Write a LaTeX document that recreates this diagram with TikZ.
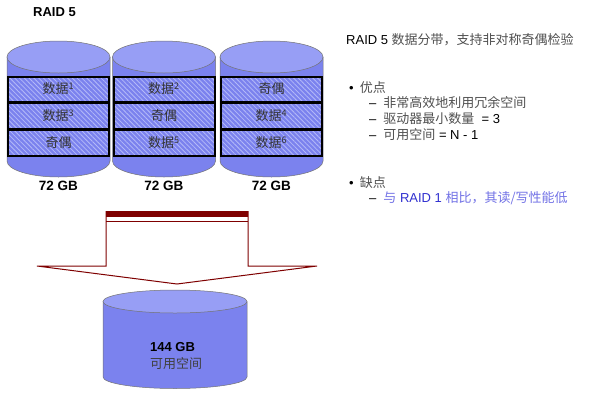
\documentclass[tikz,border=0pt]{standalone}
\usepackage{fontspec}
\setmainfont{Liberation Sans}
\newfontfamily\cjk{Noto Sans CJK SC}
\usetikzlibrary{patterns.meta}
\definecolor{diskside}{HTML}{7B82EE}
\definecolor{disktop}{HTML}{979EF5}
\definecolor{hatchblue}{HTML}{B4BAF8}
\definecolor{arrowred}{HTML}{7F0000}
\definecolor{conblue}{HTML}{3030D0}
\definecolor{conlight}{HTML}{7272E6}
\definecolor{txtgray}{HTML}{505050}
\begin{document}
\begin{tikzpicture}[x=1pt,y=-1pt,
    disk/.style={fill=diskside,draw=black!55,line width=0.5pt},
    disklid/.style={fill=disktop,draw=black!55,line width=0.5pt},
    stripe/.style={pattern={Lines[angle=-45,distance=3.4pt,line width=0.8pt]},
      pattern color=hatchblue,draw=black,line width=2pt},
    boxlabel/.style={font=\fontsize{13}{15}\selectfont\cjk,text=black!80},
    sizelabel/.style={font=\bfseries\fontsize{13.5}{15}\selectfont},
    note/.style={anchor=west,inner sep=0pt,font=\fontsize{13}{15}\selectfont}]
  \useasboundingbox[fill=white] (0,0) rectangle (600,400);
  \node[anchor=west,inner sep=0pt,font=\bfseries\fontsize{13}{15}\selectfont] (title) at (33,12) {RAID 5};
  % three disks of the array
  \foreach \cx/\a/\b/\c/\n in {58.5/{数据\textsuperscript{1}}/{数据\textsuperscript{3}}/{奇偶}/a,
      164/{数据\textsuperscript{2}}/{奇偶}/{数据\textsuperscript{5}}/b,
      271.5/{奇偶}/{数据\textsuperscript{4}}/{数据\textsuperscript{6}}/c} {
    \draw[disk] (\cx-51.5,57) -- (\cx-51.5,161) arc (180:0:51.5 and 16) -- (\cx+51.5,57);
    \draw[disklid] (\cx,57) ellipse [x radius=51.5, y radius=16];
    \draw[stripe] (\cx-50.5,76.5) rectangle (\cx+50.5,101.5);
    \draw[stripe] (\cx-50.5,103) rectangle (\cx+50.5,128.5);
    \draw[stripe] (\cx-50.5,130) rectangle (\cx+50.5,155.5);
    \node[boxlabel] (\n1) at (\cx,89) {\a};
    \node[boxlabel] (\n2) at (\cx,116) {\b};
    \node[boxlabel] (\n3) at (\cx,143) {\c};
    \node[sizelabel] (\n size) at (\cx,186) {72 GB};
  }
  % hollow arrow
  \fill[arrowred] (106,211) rectangle (248,217);
  \draw[arrowred,line width=0.8pt] (106,221) -- (248,221);
  \draw[arrowred,line width=1pt,line join=miter] (106,211) -- (106,266) -- (37,266) -- (177,284)
    -- (317,266) -- (248,266) -- (248,211);
  % resulting volume
  \draw[disk] (103,301.5) -- (103,377) arc (180:0:72 and 11.5) -- (247,301.5);
  \draw[disklid] (175,301.5) ellipse [x radius=72, y radius=11.5];
  \node[anchor=west,inner sep=0pt,font=\bfseries\fontsize{13}{15}\selectfont] (vol) at (150,347) {144 GB};
  \node[anchor=west,inner sep=0pt,font=\fontsize{13}{15}\selectfont\cjk,text=black!75] (free) at (150,363.5) {可用空间};
  % notes
  \node[note] (head) at (346,40) {RAID 5 {\cjk\color{txtgray}数据分带，支持非对称奇偶检验}};
  \node[note] (pro) at (349,88) {•\hspace{6pt}{\cjk\color{txtgray}优点}};
  \node[note] (pro1) at (369,103) {–\hspace{7pt}{\cjk\color{txtgray}非常高效地利用冗余空间}};
  \node[note] (pro2) at (369,118.5) {–\hspace{7pt}{\cjk\color{txtgray}驱动器最小数量}\ \ = 3};
  \node[note] (pro3) at (369,135) {–\hspace{7pt}{\cjk\color{txtgray}可用空间} = N - 1};
  \node[note] (con) at (349,183) {•\hspace{6pt}{\cjk\color{txtgray}缺点}};
  \node[note] (con1) at (369,198.5) {–\hspace{7pt}{\color{conblue}{\cjk\color{conlight}与} RAID 1 {\cjk\color{conlight}相比，其读/写性能低}}};
\end{tikzpicture}
\end{document}
